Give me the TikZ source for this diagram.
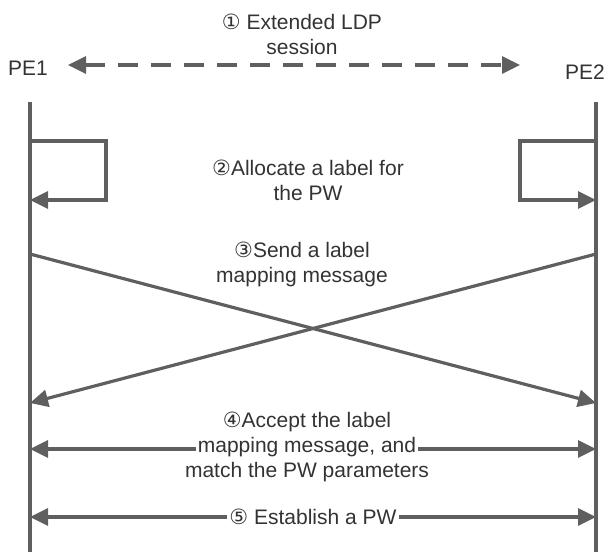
\documentclass[tikz,border=0pt]{standalone}
\usepackage{fontspec}
\setmainfont{Liberation Sans}
\newfontfamily\symfont{DejaVu Sans}
\usetikzlibrary{arrows.meta}
\definecolor{ln}{HTML}{5F5F5F}
\definecolor{tx}{HTML}{333333}
\newcommand{\cnum}[1]{{\symfont #1}}
\tikzset{
  tipx/.tip={Triangle[length=18pt,width=17pt]},
  lane/.style={draw=ln, line width=3.2pt},
  msg/.style={draw=ln, line width=3.2pt, -tipx},
  bimsg/.style={draw=ln, line width=3.2pt, tipx-tipx},
  lbl/.style={text=tx, font=\fontsize{21}{25}\selectfont, align=center, inner sep=1pt},
  gaplbl/.style={lbl, fill=white, inner xsep=2pt},
}
\begin{document}
\begin{tikzpicture}[x=1pt,y=-1pt]
\useasboundingbox (0,0) rectangle (606,552);
% lifelines
\coordinate (L1) at (30,102); \coordinate (L2) at (30,552);
\coordinate (R1) at (596,102); \coordinate (R2) at (596,552);
\draw[lane] (L1) -- (L2);
\draw[lane] (R1) -- (R2);
\node[lbl] (pe1) at (28,68) {PE1};
\node[lbl] (pe2) at (585,72) {PE2};
% 1 session
\coordinate (dA) at (68,65); \coordinate (dB) at (520,65);
\draw[bimsg, dash pattern=on 20pt off 13pt] (dA) -- (dB);
\node[lbl] (t1) at (302,34) {\cnum{①} Extended LDP\\session};
% 2 allocate
\coordinate (la) at (30,141); \coordinate (lb) at (106,141);
\coordinate (lc) at (106,200); \coordinate (ld) at (30,200);
\draw[msg] (la) -- (lb) -- (lc) -- (ld);
\coordinate (ra) at (596,141); \coordinate (rb) at (520,141);
\coordinate (rc) at (520,200); \coordinate (rd) at (596,200);
\draw[msg] (ra) -- (rb) -- (rc) -- (rd);
\node[lbl] (t2) at (308,180) {\cnum{②}Allocate a label for\\the PW};
% 3 mapping
\coordinate (xa) at (30,254); \coordinate (xb) at (596,403);
\coordinate (xc) at (596,254); \coordinate (xd) at (30,403);
\draw[msg] (xa) -- (xb);
\draw[msg] (xc) -- (xd);
\node[lbl] (t3) at (302,264) {\cnum{③}Send a label\\mapping message};
% 4 accept
\coordinate (aa) at (30,449); \coordinate (ab) at (596,449);
\draw[bimsg] (aa) -- (ab);
\node[lbl] (t4a) at (307,422) {\cnum{④}Accept the label};
\node[gaplbl] (t4b) at (307,447) {mapping message, and};
\node[lbl] (t4c) at (307,472) {match the PW parameters};
% 5 establish
\coordinate (ea) at (30,517); \coordinate (eb) at (596,517);
\draw[bimsg] (ea) -- (eb);
\node[gaplbl] (t5) at (313,517) {\cnum{⑤} Establish a PW};
\end{tikzpicture}
\end{document}
